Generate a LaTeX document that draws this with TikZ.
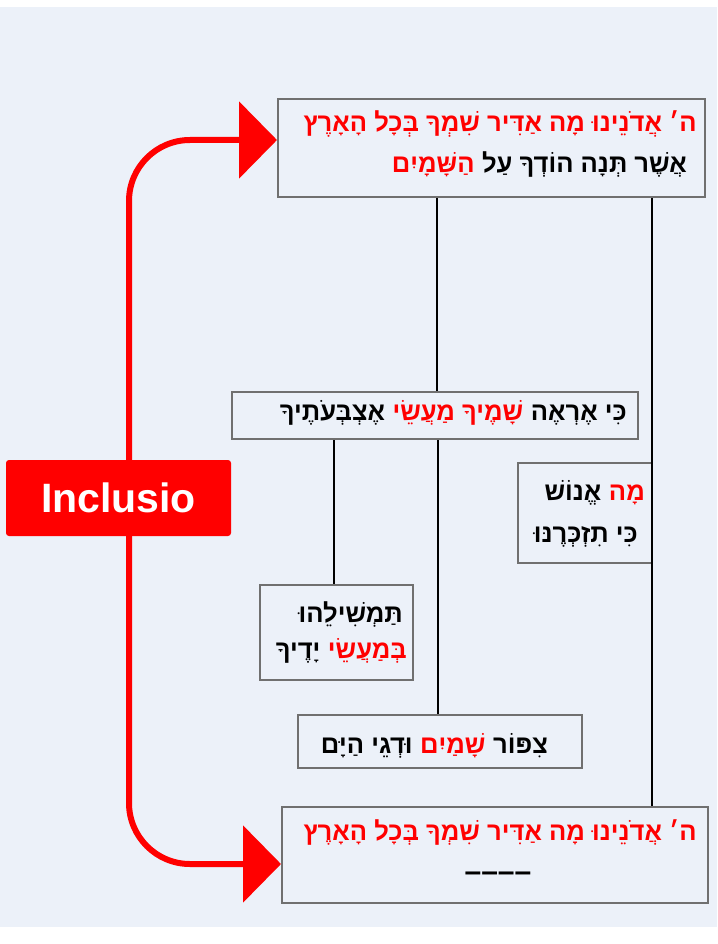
\documentclass[tikz,border=0pt]{standalone}
\usepackage{fontspec}
\usetikzlibrary{arrows.meta}
\TeXXeTstate=1
\newfontfamily\hebfont[Script=Hebrew]{Liberation Sans}
\newfontfamily\latfont{Liberation Sans}
\definecolor{bgc}{HTML}{ECF1F9}
\definecolor{boxline}{HTML}{707070}
\definecolor{pred}{HTML}{FF0000}
\newcommand{\rtl}[1]{\beginR #1\endR}
\tikzset{
  boxnode/.style={draw=boxline, line width=2pt, fill=bgc, inner sep=0pt},
  heb/.style={inner sep=0pt, anchor=base east, font=\hebfont\bfseries\fontsize{25.6}{25.6}\selectfont, text=black},
  hebr/.style={heb, text=pred},
  nxt/.style={xshift=-7.1pt},
  conn/.style={line width=2.5pt, black},
}
\begin{document}
\begin{tikzpicture}[x=1pt,y=-1pt]
\useasboundingbox (0,0) rectangle (717,944);
\fill[bgc] (0,7) rectangle (717,927);
% boxes
\node[boxnode, minimum width=427pt, minimum height=98pt] (b1) at (491.5,148) {};
\node[boxnode, minimum width=406pt, minimum height=47pt] (b2) at (435,415.5) {};
\node[boxnode, minimum width=134pt, minimum height=100pt] (b3) at (585,513) {};
\node[boxnode, minimum width=153pt, minimum height=95pt] (b4) at (336.5,632.5) {};
\node[boxnode, minimum width=284pt, minimum height=53pt] (b5) at (440,741.5) {};
\node[boxnode, minimum width=426pt, minimum height=96pt] (b6) at (495,855) {};
% connectors
\coordinate (xa) at (437,0);
\coordinate (xb) at (652,0);
\coordinate (xc) at (334,0);
\coordinate (xd) at (438,0);
\draw[conn] (b1.south -| xa) -- (b2.north -| xa);
\draw[conn] (b1.south -| xb) -- (b6.north -| xb);
\draw[conn] (b2.south -| xc) -- (b4.north -| xc);
\draw[conn] (b2.south -| xd) -- (b5.north -| xd);
% texts (right to left, segment by segment)
\node[hebr] (t1a) at (697,132) {\rtl{ה׳ אֲדֹנֵינוּ מָה אַדִּיר שִׁמְךָ בְּכָל הָאָרֶץ}};
\node[heb] (t1b) at (687,172) {\rtl{אֲשֶׁר תְּנָה הוֹדְךָ עַל}};
\node[hebr, nxt] (t1c) at (t1b.base west) {\rtl{הַשָּׁמָיִם}};
\node[heb] (t2a) at (627,420) {\rtl{כִּי אֶרְאֶה}};
\node[hebr, nxt] (t2b) at (t2a.base west) {\rtl{שָׁמֶיךָ מַעֲשֵׂי}};
\node[heb, nxt] (t2c) at (t2b.base west) {\rtl{אֶצְבְּעֹתֶיךָ}};
\node[hebr] (t3a) at (645,500) {\rtl{מָה}};
\node[heb, nxt] (t3b) at (t3a.base west) {\rtl{אֱנוֹשׁ}};
\node[heb] (t3c) at (638,542) {\rtl{כִּי תִזְכְּרֶנּוּ}};
\node[heb] (t4a) at (403,622) {\rtl{תַּמְשִׁילֵהוּ}};
\node[hebr] (t4b) at (407,658) {\rtl{בְּמַעֲשֵׂי}};
\node[heb, nxt] (t4c) at (t4b.base west) {\rtl{יָדֶיךָ}};
\node[heb] (t5a) at (548,753) {\rtl{צִפּוֹר}};
\node[hebr, nxt] (t5b) at (t5a.base west) {\rtl{שָׁמַיִם}};
\node[heb, nxt] (t5c) at (t5b.base west) {\rtl{וּדְגֵי הַיָּם}};
\node[hebr] (t6a) at (697,840) {\rtl{ה׳ אֲדֹנֵינוּ מָה אַדִּיר שִׁמְךָ בְּכָל הָאָרֶץ}};
\node[heb, anchor=center, font=\latfont\bfseries\fontsize{30}{30}\selectfont] (t6b) at (498,877) {––––};
% inclusio bracket
\draw[pred, line width=6pt, rounded corners=61pt,
  {Triangle[length=38pt,width=76pt]}-{Triangle[length=38pt,width=76pt]}]
  (b1.west |- 0,140) -- (129,140) -- (129,864) -- (b6.west |- 0,864);
\node[fill=pred, rounded corners=3pt, minimum width=225pt, minimum height=76pt, inner sep=0pt,
  text=white, font=\latfont\bfseries\fontsize{41}{41}\selectfont] (inc) at (118.5,498) {Inclusio};
\end{tikzpicture}
\end{document}
